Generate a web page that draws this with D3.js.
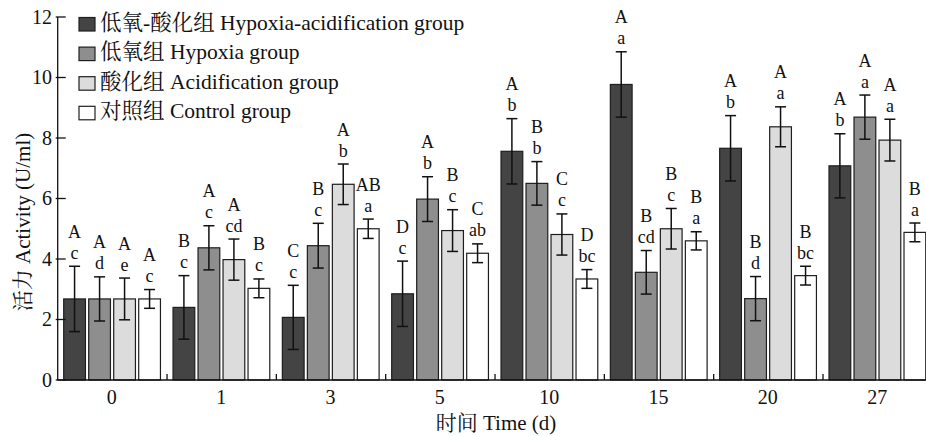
<!DOCTYPE html>
<html><head><meta charset="utf-8">
<script src="https://cdn.jsdelivr.net/npm/d3@7"></script>
<style>
html,body{margin:0;padding:0;background:#fff;}
svg text{font-family:"Liberation Serif","Noto Serif CJK SC","Noto Sans CJK SC",serif;fill:#111;}
</style></head><body>
<svg id="c" width="926" height="437"></svg>
<script>
const categories = ["0","1","3","5","10","15","20","27"];
const seriesNames = ["低氧-酸化组 Hypoxia-acidification group","低氧组 Hypoxia group","酸化组 Acidification group","对照组 Control group"];
const seriesColors = ["#444444","#8e8e8e","#dcdcdc","#ffffff"];
const hypoxiaAcid = [2.68,2.40,2.07,2.85,7.56,9.77,7.66,7.08];
const hypoxia     = [2.68,4.37,4.44,5.98,6.50,3.56,2.69,8.69];
const acid        = [2.68,3.98,6.47,4.94,4.81,5.00,8.37,7.93];
const control     = [2.68,3.03,5.00,4.19,3.34,4.60,3.45,4.88];
const errHypoxiaAcid = [1.08,1.05,1.06,1.08,1.08,1.08,1.08,1.06];
const errHypoxia     = [0.73,0.73,0.74,0.74,0.72,0.72,0.73,0.73];
const errAcid        = [0.69,0.68,0.67,0.69,0.68,0.67,0.66,0.69];
const errControl     = [0.31,0.31,0.32,0.31,0.31,0.30,0.31,0.31];
const upperLetters = [
  ["A","B","C","D","A","A","A","A"],
  ["A","A","B","A","B","B","B","A"],
  ["A","A","A","B","C","B","A","A"],
  ["A","B","AB","C","D","B","B","B"]
];
const lowerLetters = [
  ["c","c","c","c","b","a","b","b"],
  ["d","c","c","b","b","cd","d","a"],
  ["e","cd","b","c","c","c","a","a"],
  ["c","c","a","ab","bc","a","bc","a"]
];
const yTicks = [0,2,4,6,8,10,12];
const xTitle = "时间 Time (d)";
const yTitle = "活力 Activity (U/ml)";

const values = [hypoxiaAcid, hypoxia, acid, control];
const errors = [errHypoxiaAcid, errHypoxia, errAcid, errControl];

const svg = d3.select("#c");
const left = 57.7, groupW = 109.33;
const x0 = d3.scaleBand().domain(categories).range([left, left + groupW*categories.length]).padding(0);
const x1 = d3.scaleBand().domain(d3.range(4)).range([6, 106]).padding(0);
const barW = x1.bandwidth()*0.87;
const y = d3.scaleLinear().domain([0,12]).range([380,17]);

// bars
const g = svg.append("g");
categories.forEach((c, i) => {
  const gg = g.append("g").attr("transform", `translate(${x0(c)},0)`);
  values.forEach((vals, s) => {
    const v = vals[i], e = errors[s][i];
    const bx = x1(s);
    const cx = bx + barW/2;
    gg.append("rect").attr("x", bx).attr("y", y(v)).attr("width", barW).attr("height", y(0)-y(v))
      .attr("fill", seriesColors[s]).attr("stroke", "#1e1e1e").attr("stroke-width", 1.2);
    const ek = gg.append("g").attr("stroke", "#111").attr("stroke-width", 1.5);
    ek.append("line").attr("x1", cx).attr("x2", cx).attr("y1", y(v+e)).attr("y2", y(v-e));
    ek.append("line").attr("x1", cx-5.5).attr("x2", cx+5.5).attr("y1", y(v+e)).attr("y2", y(v+e));
    ek.append("line").attr("x1", cx-5.5).attr("x2", cx+5.5).attr("y1", y(v-e)).attr("y2", y(v-e));
    gg.append("text").attr("x", cx).attr("y", y(v+e)-7.5).attr("text-anchor","middle")
      .attr("font-size", 18).text(lowerLetters[s][i]);
    gg.append("text").attr("x", cx).attr("y", y(v+e)-28.5).attr("text-anchor","middle")
      .attr("font-size", 18).text(upperLetters[s][i]);
  });
});

// axes
const ax = svg.append("g").attr("stroke", "#111").attr("stroke-width", 1.3);
ax.append("line").attr("x1", left).attr("x2", left).attr("y1", y(12)).attr("y2", y(0));
ax.append("line").attr("x1", left).attr("x2", 926).attr("y1", y(0)).attr("y2", y(0));
yTicks.forEach(t => {
  ax.append("line").attr("x1", left-2).attr("x2", left+8).attr("y1", y(t)).attr("y2", y(t));
});
categories.forEach((c, i) => {
  if (i > 0) ax.append("line").attr("x1", x0(c)).attr("x2", x0(c)).attr("y1", y(0)).attr("y2", y(0)-6);
});
svg.append("g").selectAll("text").data(yTicks).join("text")
  .attr("x", 52).attr("y", d => y(d)).attr("dy", "0.34em").attr("text-anchor", "end")
  .attr("font-size", 20).text(d => d);
svg.append("g").selectAll("text").data(categories).join("text")
  .attr("x", d => x0(d) + x0.bandwidth()/2 - 0.5).attr("y", 404).attr("text-anchor", "middle")
  .attr("font-size", 20).text(d => d);

svg.append("text").attr("x", 496).attr("y", 430).attr("text-anchor","middle").attr("font-size", 21).text(xTitle);
svg.append("text").attr("transform", "translate(30,222) rotate(-90)").attr("text-anchor","middle")
  .attr("font-size", 21).text(yTitle);

// legend
const lg = svg.append("g");
seriesNames.forEach((n, s) => {
  const by = 29.5 + s*29.6;
  lg.append("rect").attr("x", 79).attr("y", by-12).attr("width", 16).attr("height", 13.5)
    .attr("fill", seriesColors[s]).attr("stroke", "#1e1e1e").attr("stroke-width", 1.2);
  lg.append("text").attr("x", 100).attr("y", by).attr("font-size", 21.5).text(n);
});
</script>
</body></html>
